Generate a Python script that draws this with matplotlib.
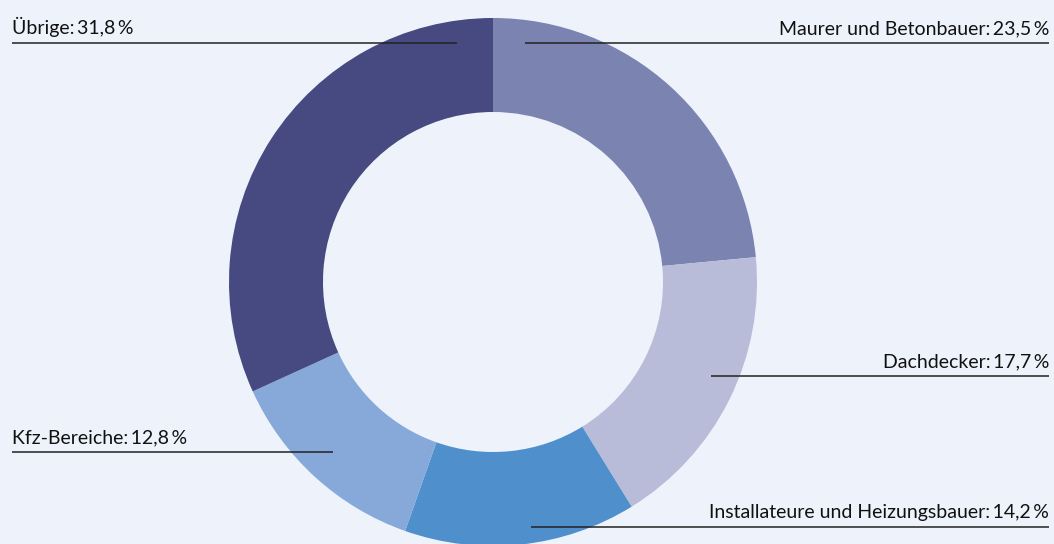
import matplotlib
matplotlib.use("Agg")
import matplotlib.pyplot as plt

# data
labels = ["Maurer und Betonbauer", "Dachdecker", "Installateure und Heizungsbauer",
          "Kfz-Bereiche", "Übrige"]
shares = [23.5, 17.7, 14.2, 12.8, 31.8]
colors = ["#7B83B1", "#B9BCD9", "#4F8FCC", "#86A9DA", "#464A80"]

# label layout in pixel coords (x_text, y_line, line_x0, line_x1, align)
label_pos = [
    (1049, 43, 525, 1049, "right"),
    (1049, 376, 711, 1049, "right"),
    (1049, 527, 531, 1049, "right"),
    (12, 452, 12, 333, "left"),
    (12, 43, 12, 457, "left"),
]

bg = "#EEF3FB"
W, H = 1054, 544
fig = plt.figure(figsize=(W / 100, H / 100), dpi=100, facecolor=bg)
ax = fig.add_axes([0, 0, 1, 1])
ax.set_facecolor(bg)

ax.pie(shares, colors=colors, startangle=90, counterclock=False,
       center=(493, H - 282), radius=264,
       wedgeprops=dict(width=94, linewidth=0), frame=True)
ax.set_xlim(0, W)
ax.set_ylim(0, H)
ax.set_aspect("equal")
ax.axis("off")

fam = ["Lato", "DejaVu Sans"]
for lab, val, (xt, yl, x0, x1, ha) in zip(labels, shares, label_pos):
    txt = f"{lab}:\u2009{val:.1f}".replace(".", ",") + "\u2009%"
    ax.plot([x0, x1], [H - yl, H - yl], color="#222222", lw=1.1, zorder=5,
            solid_capstyle="butt")
    ax.text(xt, H - yl + 9, txt, ha=ha, va="baseline", fontsize=14,
            family=fam, color="#111111", zorder=6)

fig.savefig("out.png", dpi=100, facecolor=bg)
